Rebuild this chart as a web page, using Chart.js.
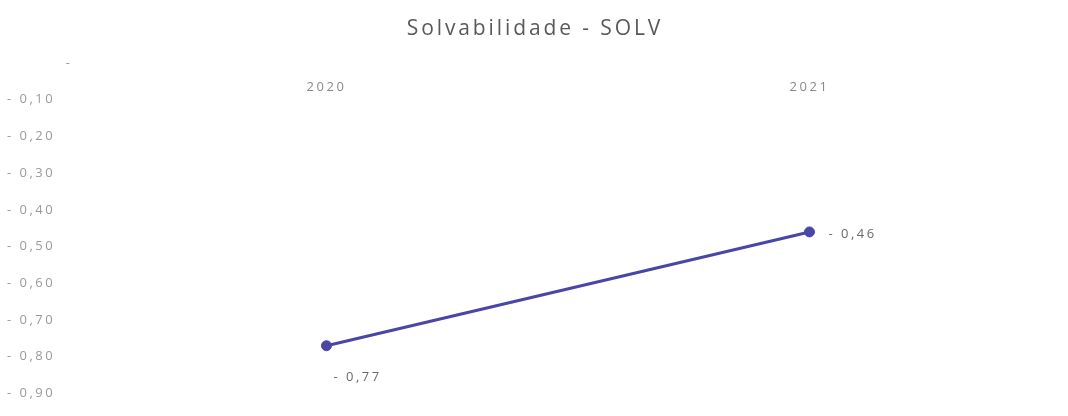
<!DOCTYPE html>
<html lang="pt">
<head>
    <meta charset="UTF-8">
    <title>Solvabilidade - SOLV</title>
    <script src="https://cdn.jsdelivr.net/npm/chart.js"></script>
    <style>
        body {
            margin: 0;
            padding: 0;
            background-color: #ffffff;
        }

        #wrap {
            width: 1068px;
            height: 416px;
        }
    </style>
</head>
<body>
    <div id="wrap">
        <canvas id="chart"></canvas>
    </div>

    <script>
        const titulo = 'Solvabilidade - SOLV';
        const categories = ['2020', '2021'];
        const solvValues = [-0.77, -0.46];
        const yMin = -0.9;
        const yMax = 0;
        const yStep = 0.1;

        function formatar(v) {
            if (Math.abs(v) < 1e-9) return '          -';
            return '- ' + Math.abs(v).toFixed(2).replace('.', ',');
        }

        // espaçamento entre letras, como no gráfico original
        const espacamento = {
            id: 'espacamento',
            beforeDraw(chart) {
                chart.ctx.letterSpacing = '2.5px';
            }
        };

        // título, rótulos das categorias e dos pontos
        const rotulos = {
            id: 'rotulos',
            afterDatasetsDraw(chart) {
                const ctx = chart.ctx;
                const xs = chart.scales.x;
                const ys = chart.scales.y;
                ctx.save();
                ctx.textBaseline = 'middle';

                ctx.letterSpacing = '2.9px';
                ctx.font = '21px "Open Sans"';
                ctx.fillStyle = '#595959';
                ctx.textAlign = 'center';
                ctx.fillText(titulo, chart.width / 2 + 1, 29);

                ctx.letterSpacing = '2.5px';
                ctx.font = '13px "Open Sans"';
                ctx.fillStyle = '#8a8a8a';
                categories.forEach((c, i) => {
                    ctx.fillText(c, xs.getPixelForValue(i), ys.getPixelForValue(0) + 24);
                });

                const meta = chart.getDatasetMeta(0);
                ctx.fillStyle = '#6a6a6a';
                ctx.textAlign = 'left';
                meta.data.forEach((pt, i) => {
                    const txt = formatar(solvValues[i]);
                    if (i === 0) {
                        ctx.fillText(txt, pt.x + 7, pt.y + 32);
                    } else {
                        ctx.fillText(txt, pt.x + 19, pt.y + 2);
                    }
                });
                ctx.restore();
            }
        };

        const ctx = document.getElementById('chart').getContext('2d');

        new Chart(ctx, {
            type: 'line',
            data: {
                labels: categories,
                datasets: [{
                    label: 'SOLV',
                    data: solvValues,
                    borderColor: '#4a46a6',
                    backgroundColor: '#4a46a6',
                    borderWidth: 3,
                    pointRadius: 5,
                    pointBorderWidth: 1,
                    pointHoverRadius: 5,
                    tension: 0
                }]
            },
            options: {
                responsive: true,
                maintainAspectRatio: false,
                animation: false,
                layout: {
                    padding: { left: 7, right: 17, top: 63, bottom: 20 }
                },
                plugins: {
                    legend: { display: false },
                    tooltip: { enabled: false },
                    title: { display: false }
                },
                scales: {
                    x: {
                        display: false,
                        offset: true
                    },
                    y: {
                        min: yMin,
                        max: yMax,
                        grid: { display: false },
                        border: { display: false },
                        ticks: {
                            stepSize: yStep,
                            crossAlign: 'far',
                            color: '#9a9a9a',
                            padding: 16,
                            font: { family: 'Open Sans', size: 13, lineHeight: 1 },
                            callback: (v) => formatar(v)
                        }
                    }
                }
            },
            plugins: [espacamento, rotulos]
        });
    </script>
</body>
</html>
